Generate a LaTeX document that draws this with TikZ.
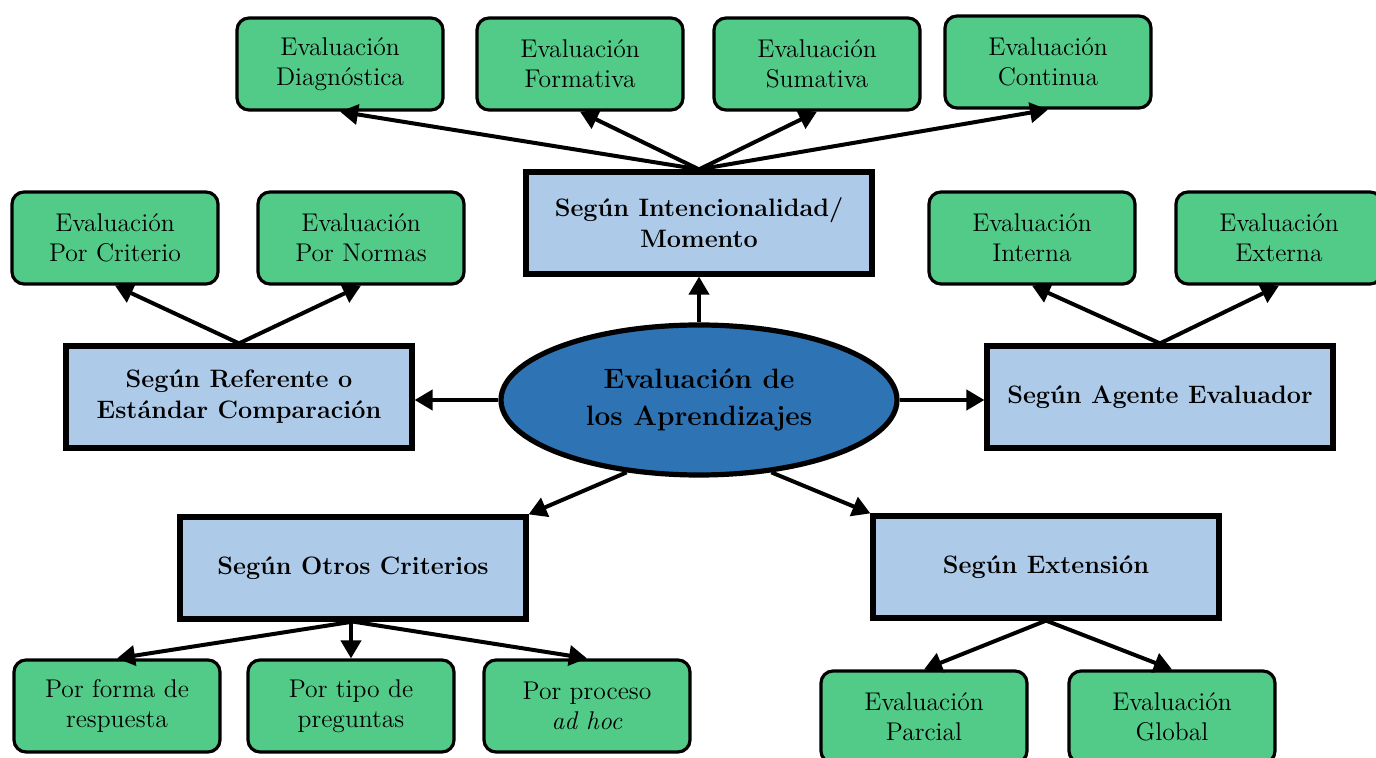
\documentclass[tikz,border=0pt]{standalone}
\usetikzlibrary{arrows.meta,shapes.geometric}
\definecolor{gfill}{HTML}{52CB88}
\definecolor{bfill}{HTML}{ADCBE8}
\definecolor{efill}{HTML}{2E74B5}
\begin{document}
\begin{tikzpicture}[x=0.5pt,y=-0.5pt,
  leaf/.style={draw=black,line width=1.6pt,fill=gfill,rounded corners=6pt,minimum width=103pt,minimum height=46pt,align=center,inner sep=0pt,font=\fontsize{12.8}{15}\selectfont},
  cat/.style={draw=black,line width=2.6pt,fill=bfill,minimum width=173pt,minimum height=51pt,align=center,inner sep=0pt,font=\fontsize{12.6}{15.5}\selectfont\bfseries},
  arr/.style={line width=2pt,-{Triangle[length=9pt,width=10pt]}}]
\useasboundingbox (0,0) rectangle (1376,758);
% center
\node[ellipse,draw=black,line width=2.6pt,fill=efill,minimum width=198pt,minimum height=75pt,inner sep=0pt,align=center,font=\fontsize{14}{18.5}\selectfont\bfseries] (ell) at (699,400) {Evaluación de\\los Aprendizajes};
% categories
\node[cat] (mom) at (699,223) {Según Intencionalidad/\\Momento};
\node[cat] (ref) at (239,397) {Según Referente o\\Estándar Comparación};
\node[cat] (age) at (1160,397) {Según Agente Evaluador};
\node[cat] (otr) at (353,568) {Según Otros Criterios};
\node[cat] (ext) at (1046,567) {Según Extensión};
% leaves
\node[leaf] (diag) at (340,64) {Evaluación\\Diagnóstica};
\node[leaf] (form) at (580,64) {Evaluación\\Formativa};
\node[leaf] (suma) at (817,64) {Evaluación\\Sumativa};
\node[leaf] (cont) at (1048,62) {Evaluación\\Continua};
\node[leaf] (crit) at (115,238) {Evaluación\\Por Criterio};
\node[leaf] (norm) at (361,238) {Evaluación\\Por Normas};
\node[leaf] (inte) at (1032,238) {Evaluación\\Interna};
\node[leaf] (exte) at (1279,238) {Evaluación\\Externa};
\node[leaf] (resp) at (117,706) {Por forma de\\respuesta};
\node[leaf] (preg) at (351,706) {Por tipo de\\preguntas};
\node[leaf] (proc) at (587,706) {Por proceso\\\textit{ad hoc}};
\node[leaf] (parc) at (924,717) {Evaluación\\Parcial};
\node[leaf] (glob) at (1172,717) {Evaluación\\Global};
% connectors from center
\draw[arr] (ell.north) -- (mom.south);
\draw[arr] (ell.west) -- (ell.west -| ref.east);
\draw[arr] (ell.east) -- (ell.east -| age.west);
\draw[arr] (ell.225) -- (otr.north east);
\draw[arr] (ell.-45) -- (ext.north west);
% momento
\draw[arr] (mom.north) -- (diag.south);
\draw[arr] (mom.north) -- (form.south);
\draw[arr] (mom.north) -- (suma.south);
\draw[arr] (mom.north) -- (cont.south);
% referente
\draw[arr] (ref.north) -- (crit.south);
\draw[arr] (ref.north) -- (norm.south);
% agente
\draw[arr] (age.north) -- (inte.south);
\draw[arr] (age.north) -- (exte.south);
% otros
\draw[arr] (otr.south) -- (resp.north);
\draw[arr] (otr.south -| preg.north) -- (preg.north);
\draw[arr] (otr.south) -- (proc.north);
% extension
\draw[arr] (ext.south) -- (parc.north);
\draw[arr] (ext.south) -- (glob.north);
\end{tikzpicture}
\end{document}
